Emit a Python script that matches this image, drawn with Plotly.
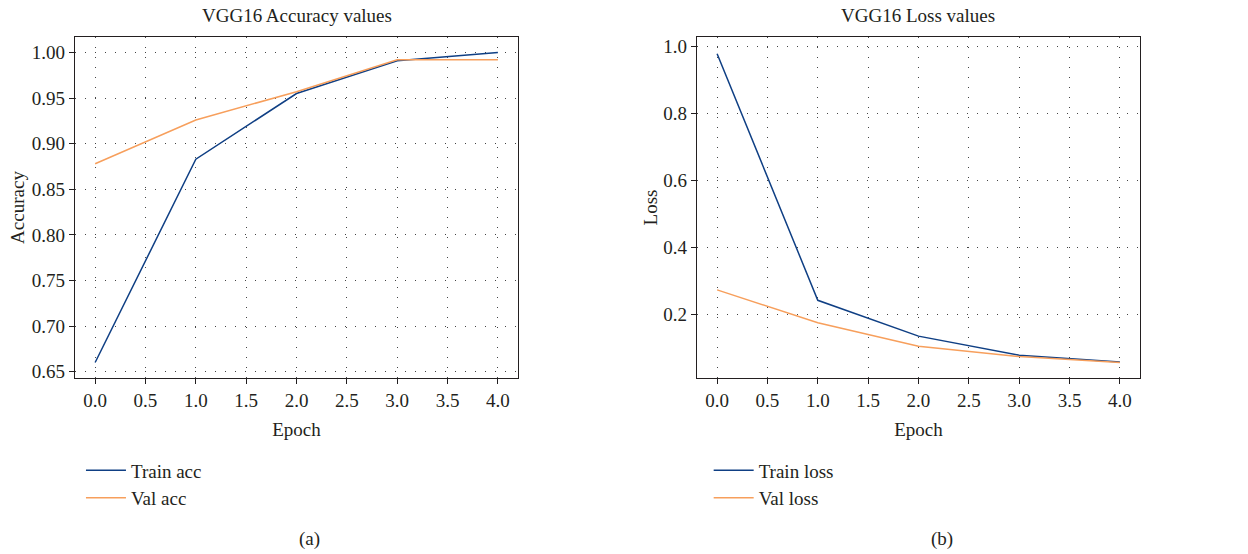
import plotly.graph_objects as go
from plotly.subplots import make_subplots

epochs = [0, 1, 2, 3, 4]
train_acc = [0.660, 0.883, 0.955, 0.991, 1.000]
val_acc = [0.878, 0.926, 0.957, 0.992, 0.992]
train_loss = [0.977, 0.241, 0.134, 0.077, 0.057]
val_loss = [0.272, 0.174, 0.104, 0.073, 0.055]

x_ticks = [0.0, 0.5, 1.0, 1.5, 2.0, 2.5, 3.0, 3.5, 4.0]
acc_ticks = [0.65, 0.70, 0.75, 0.80, 0.85, 0.90, 0.95, 1.00]
loss_ticks = [0.2, 0.4, 0.6, 0.8, 1.0]

TRAIN_C = "#0f3f84"
VAL_C = "#f79f5c"
FONT = "Liberation Serif"
TXT = "#231f20"
FS = 19

fig = make_subplots(rows=1, cols=2, horizontal_spacing=0.168)

fig.add_trace(go.Scatter(x=epochs, y=train_acc, mode="lines", name="Train acc",
                         line=dict(color=TRAIN_C, width=1.5), legend="legend"), 1, 1)
fig.add_trace(go.Scatter(x=epochs, y=val_acc, mode="lines", name="Val acc",
                         line=dict(color=VAL_C, width=1.5), legend="legend"), 1, 1)
fig.add_trace(go.Scatter(x=epochs, y=train_loss, mode="lines", name="Train loss",
                         line=dict(color=TRAIN_C, width=1.5), legend="legend2"), 1, 2)
fig.add_trace(go.Scatter(x=epochs, y=val_loss, mode="lines", name="Val loss",
                         line=dict(color=VAL_C, width=1.5), legend="legend2"), 1, 2)

axis_common = dict(showline=True, linecolor="#231f20", linewidth=1.3, mirror=True,
                   ticks="outside", ticklen=5, tickwidth=1.2, tickcolor="#231f20",
                   showgrid=True, gridcolor="#444444", gridwidth=1.2, griddash="1.2px,8.8px",
                   zeroline=False, tickfont=dict(family=FONT, size=FS, color=TXT),
                   title_font=dict(family=FONT, size=FS, color=TXT))

fig.update_xaxes(**axis_common, tickvals=x_ticks, ticktext=[f"{v:.1f}" for v in x_ticks],
                 range=[-0.2, 4.2], title_text="Epoch", title_standoff=12)
fig.update_yaxes(**axis_common)
fig.update_yaxes(tickvals=acc_ticks, ticktext=[f"{v:.2f}" for v in acc_ticks],
                 range=[0.643, 1.017], title_text="Accuracy", title_standoff=2, row=1, col=1)
fig.update_yaxes(tickvals=loss_ticks, ticktext=[f"{v:.1f}" for v in loss_ticks],
                 range=[0.009, 1.027], title_text="Loss", title_standoff=0, row=1, col=2)

fig.update_layout(
    width=1248, height=554,
    margin=dict(l=75, r=108, t=37, b=176),
    paper_bgcolor="white", plot_bgcolor="white",
    font=dict(family=FONT, size=FS, color=TXT),
    showlegend=True,
    legend=dict(x=0.0056, xref="paper", y=-0.215, yanchor="top", xanchor="left",
                bgcolor="rgba(0,0,0,0)", font=dict(family=FONT, size=FS, color=TXT),
                tracegroupgap=0, itemwidth=40),
    legend2=dict(x=0.595, xref="paper", y=-0.215, yanchor="top", xanchor="left",
                 bgcolor="rgba(0,0,0,0)", font=dict(family=FONT, size=FS, color=TXT),
                 tracegroupgap=0, itemwidth=40),
)

fig.add_annotation(text="VGG16 Accuracy values", xref="x domain", yref="paper",
                   x=0.5, y=1.0, yshift=22, yanchor="middle", showarrow=False,
                   font=dict(family=FONT, size=FS, color=TXT))
fig.add_annotation(text="VGG16 Loss values", xref="x2 domain", yref="paper",
                   x=0.5, y=1.0, yshift=22, yanchor="middle", showarrow=False,
                   font=dict(family=FONT, size=FS, color=TXT))
fig.add_annotation(text="(a)", xref="x domain", yref="paper", x=0.53, y=-0.472,
                   yanchor="middle", showarrow=False,
                   font=dict(family=FONT, size=FS, color=TXT))
fig.add_annotation(text="(b)", xref="x2 domain", yref="paper", x=0.553, y=-0.472,
                   yanchor="middle", showarrow=False,
                   font=dict(family=FONT, size=FS, color=TXT))

fig.write_html("out.html")
